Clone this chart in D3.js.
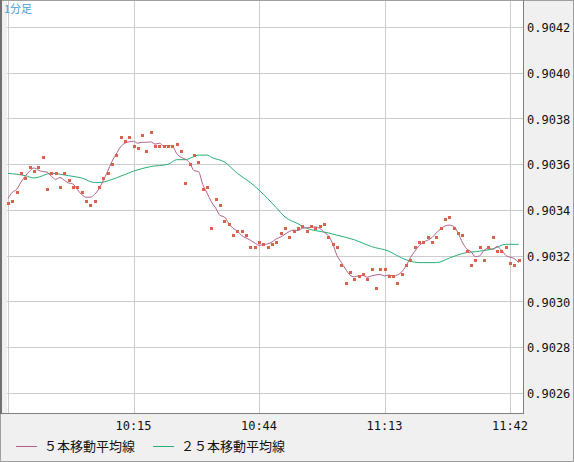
<!DOCTYPE html>
<html lang="ja">
<head>
<meta charset="UTF-8">
<title>1分足</title>
<script src="https://cdn.jsdelivr.net/npm/d3@7"></script>
<style>
  body { margin: 0; background: #f0f0f0; }
  text { font-family: "DejaVu Sans Mono", monospace; font-size: 12px; }
</style>
</head>
<body>
<script>
// 1分足 close values, 9:46 .. 11:44
var prices = [
  0.90343, 0.90344, 0.90348, 0.90356, 0.90354, 0.90359, 0.90357, 0.90359, 0.90363, 0.90349,
  0.90356, 0.90356, 0.90350, 0.90356, 0.90353, 0.90350, 0.90350, 0.90348, 0.90344, 0.90342,
  0.90344, 0.90350, 0.90354, 0.90356, 0.90360, 0.90364, 0.90372, 0.90370, 0.90372, 0.90368,
  0.90367, 0.90373, 0.90366, 0.90374, 0.90368, 0.90368, 0.90368, 0.90368, 0.90368, 0.90369,
  0.90366, 0.90352, 0.90360, 0.90364, 0.90361, 0.90349, 0.90350, 0.90332, 0.90345, 0.90342,
  0.90335, 0.90334, 0.90329, 0.90331, 0.90331, 0.90329, 0.90324, 0.90324, 0.90326, 0.90325,
  0.90324, 0.90325, 0.90326, 0.90330, 0.90332, 0.90328, 0.90331, 0.90332, 0.90333, 0.90331,
  0.90333, 0.90332, 0.90333, 0.90334, 0.90328, 0.90325, 0.90324, 0.90316, 0.90308, 0.90313,
  0.90310, 0.90311, 0.90312, 0.90310, 0.90314, 0.90306, 0.90314, 0.90314, 0.90311, 0.90311,
  0.90308, 0.90312, 0.90316, 0.90318, 0.90324, 0.90326, 0.90326, 0.90328, 0.90326, 0.90328,
  0.90332, 0.90336, 0.90337, 0.90332, 0.90330, 0.90329, 0.90322, 0.90316, 0.90318, 0.90324,
  0.90318, 0.90324, 0.90328, 0.90322, 0.90322, 0.90324, 0.90317, 0.90316, 0.90318
];
// 25本移動平均線, read at sample minutes (offset from 9:46)
var ma25Minutes = [0, 4, 6, 10, 14, 17, 20, 21, 25, 29, 33, 37, 39, 41, 44, 46, 47, 50, 53, 56,
  60, 62, 64, 67, 69, 71, 74, 76, 80, 84, 88, 91, 95, 99, 102, 105, 109, 112, 115, 118];
var ma25Values = [0.90356, 0.90355, 0.90354, 0.90356, 0.90355, 0.90354, 0.90352, 0.90352, 0.90354, 0.90357,
  0.90359, 0.90360, 0.90362, 0.90362, 0.90364, 0.90364, 0.90363, 0.90361, 0.90356, 0.90352,
  0.90345, 0.90341, 0.90337, 0.90334, 0.90332, 0.90331, 0.90330, 0.90329, 0.90327, 0.90324,
  0.90322, 0.90319, 0.90317, 0.90317, 0.90319, 0.90321, 0.90322, 0.90323, 0.90325, 0.90325];
var yTicks = [0.9026, 0.9028, 0.9030, 0.9032, 0.9034, 0.9036, 0.9038, 0.9040, 0.9042];
var xTickLabels = ["10:15", "10:44", "11:13", "11:42"];

var W = 574, H = 462;
var plot = {left: 7, right: 523, top: 1, bottom: 413};
var parse = d3.timeParse("%H:%M");
var t0 = parse("9:46");
var times = prices.map(function (d, i) { return d3.timeMinute.offset(t0, i); });

var x = d3.scaleTime().domain([t0, parse("11:42")]).range([8, 510]);
var y = d3.scaleLinear().domain([0.9026, 0.9042]).range([393, 27]);

var svg = d3.select("body").append("svg").attr("width", W).attr("height", H);
svg.append("rect").attr("width", W).attr("height", H).attr("fill", "#f0f0f0");
svg.append("rect").attr("x", 0.5).attr("y", 0.5).attr("width", W - 1).attr("height", H - 1)
  .attr("fill", "none").attr("stroke", "#a0a0a0");
svg.append("rect").attr("x", plot.left).attr("y", plot.top)
  .attr("width", plot.right - plot.left).attr("height", plot.bottom - plot.top).attr("fill", "#fff");

// grid
svg.append("g").attr("shape-rendering", "crispEdges").selectAll("line").data(yTicks).enter().append("line")
  .attr("x1", plot.left).attr("x2", plot.right)
  .attr("y1", function (d) { return Math.round(y(d)) + 0.5; })
  .attr("y2", function (d) { return Math.round(y(d)) + 0.5; })
  .attr("stroke", "#cccccc");
var xGrid = [t0].concat(xTickLabels.map(parse));
svg.append("g").attr("shape-rendering", "crispEdges").selectAll("line").data(xGrid).enter().append("line")
  .attr("y1", plot.top).attr("y2", plot.bottom)
  .attr("x1", function (d) { return Math.round(x(d)) + 0.5; })
  .attr("x2", function (d) { return Math.round(x(d)) + 0.5; })
  .attr("stroke", "#cccccc");

// borders
svg.append("line").attr("x1", plot.right + 0.5).attr("x2", plot.right + 0.5)
  .attr("y1", 0).attr("y2", plot.bottom).attr("stroke", "#808080");
svg.append("line").attr("x1", 0).attr("x2", plot.right + 1)
  .attr("y1", plot.bottom + 0.5).attr("y2", plot.bottom + 0.5).attr("stroke", "#808080");
svg.append("rect").attr("x", 0).attr("y", 0).attr("width", 2).attr("height", plot.bottom + 1).attr("fill", "#707070");

// y labels
svg.append("g").selectAll("text").data(yTicks).enter().append("text")
  .attr("x", 527).attr("y", function (d) { return y(d) + 5; })
  .attr("fill", "#111").text(function (d) { return d.toFixed(4); });

// x labels
svg.append("g").selectAll("text").data(xTickLabels).enter().append("text")
  .attr("x", function (d) { return x(parse(d)); }).attr("y", 430)
  .attr("text-anchor", "middle").attr("fill", "#111").text(function (d) { return d; });

// 5本移動平均 (centred mean of the prices)
var ma5 = prices.map(function (d, i) {
  return d3.mean(prices.slice(Math.max(0, i - 2), i + 3));
});
var line = d3.line().curve(d3.curveMonotoneX);
svg.append("path")
  .attr("d", line(ma25Values.map(function (v, i) {
    return [x(d3.timeMinute.offset(t0, ma25Minutes[i])), y(v)];
  })))
  .attr("fill", "none").attr("stroke", "#2aae78").attr("stroke-width", 1);
svg.append("path")
  .attr("d", line(ma5.map(function (v, i) { return [x(times[i]), y(v)]; })))
  .attr("fill", "none").attr("stroke", "#b0608e").attr("stroke-width", 1);

// price dots
svg.append("g").attr("shape-rendering", "crispEdges").selectAll("rect").data(prices).enter().append("rect")
  .attr("x", function (d, i) { return Math.round(x(times[i])) - 1; })
  .attr("y", function (d) { return Math.round(y(d)) - 1; })
  .attr("width", 3).attr("height", 3).attr("fill", "#d9634a");

// title
svg.append("text").attr("x", 4).attr("y", 13).attr("fill", "#3fa0d8")
  .style("font-family", "'Noto Sans CJK JP', sans-serif").style("font-size", "11px").text("1分足");

// legend
var legend = [{label: "５本移動平均線", color: "#b0608e", x: 16},
              {label: "２５本移動平均線", color: "#2aae78", x: 153}];
var lg = svg.append("g").selectAll("g").data(legend).enter().append("g")
  .attr("transform", function (d) { return "translate(" + d.x + ",450)"; });
lg.append("line").attr("x1", 0).attr("x2", 21).attr("y1", -3.5).attr("y2", -3.5)
  .attr("stroke", function (d) { return d.color; });
lg.append("text").attr("x", 28).attr("y", 1).attr("fill", "#111")
  .style("font-family", "'Noto Sans CJK JP', sans-serif").style("font-size", "13px")
  .text(function (d) { return d.label; });
</script>
</body>
</html>
